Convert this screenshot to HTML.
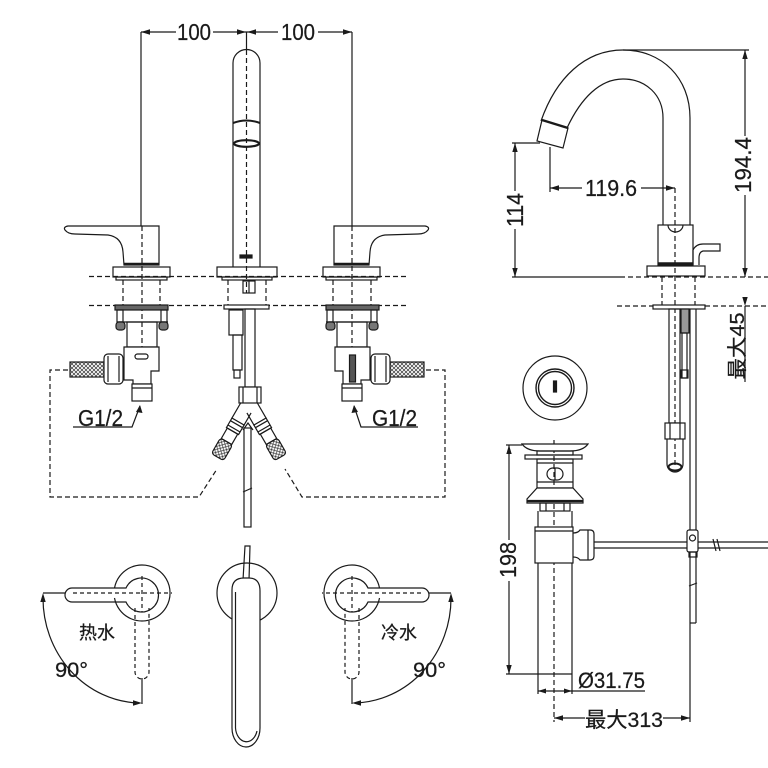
<!DOCTYPE html>
<html><head><meta charset="utf-8"><style>
html,body{margin:0;padding:0;background:#fff;}
svg{display:block;}
text{font-family:"Liberation Sans","Noto Sans CJK SC",sans-serif;fill:#1a1a1a;stroke:#1a1a1a;stroke-width:0.25;}
</style></head><body>
<svg width="768" height="768" viewBox="0 0 768 768" xmlns="http://www.w3.org/2000/svg">
<defs>
<pattern id="h" patternUnits="userSpaceOnUse" width="4" height="4"><path d="M0,0L4,4M4,0L0,4" stroke="#333" stroke-width="0.7"/></pattern>
<g id="handle">
  <path d="M159,265 L159,226 L68,226 Q63,227 65,230 Q68,234 75,234 L108,235 Q122,237 123,252 L124,265 Z"/>
  <line x1="124" y1="264" x2="159" y2="264" stroke-width="2.6"/>
  <rect x="113" y="267" width="57" height="10"/>
  <rect x="116" y="277" width="51" height="3"/>
</g>
<g id="valve">
  <rect x="115" y="305" width="53" height="5" fill="#666"/>
  <rect x="117" y="310" width="6" height="12"/>
  <rect x="161" y="310" width="6" height="12"/>
  <line x1="117" y1="322" x2="168" y2="322"/>
  <rect x="116" y="322" width="9" height="8" rx="3" fill="#777"/>
  <rect x="159" y="322" width="9" height="8" rx="3" fill="#777"/>
  <rect x="127" y="322" width="30" height="25"/>
  <path d="M124,347 L159,347 L159,371 L151,371 L151,384 L133,384 L133,380 L124,380 Z" fill="#fff"/>
  <rect x="132" y="384" width="20" height="17" fill="#fff"/>
  <line x1="132" y1="388" x2="152" y2="388"/>
  <rect x="70" y="362" width="34" height="15" fill="url(#h)"/>
  <rect x="104" y="354" width="19" height="30" rx="4" fill="#fff"/>
  <line x1="108" y1="356" x2="108" y2="382"/>
  <line x1="119" y1="356" x2="119" y2="382"/>
</g>
<g id="topview">
  <path d="M114.5,588 A28,28 0 1 1 114.5,598"/>
  <path d="M72,588 L126,588 A17,17 0 1 1 126,602 L72,602 A7,7 0 0 1 72,588 Z"/>
  <path d="M135,608 L135,672 A7,7 0 0 0 149,672 L149,608" stroke-dasharray="4 3"/>
  <line x1="73" y1="593" x2="172" y2="593" stroke-dasharray="4 3"/>
  <line x1="142" y1="576" x2="142" y2="612" stroke-dasharray="4 3"/>
  <line x1="43" y1="593" x2="65" y2="593"/>
  <line x1="142" y1="678" x2="142" y2="704"/>
  <path d="M43,598 A99,105 0 0 0 138,703"/>
  <polygon points="43,593 40.3,602 45.7,602" fill="#1a1a1a" stroke="none"/>
  <polygon points="142,703 133,700.3 133,705.7" fill="#1a1a1a" stroke="none"/>
</g>
</defs>
<rect width="768" height="768" fill="#fff"/>

<g fill="none" stroke="#1a1a1a" stroke-width="1.2">
<!-- top dimensions -->
<line x1="141" y1="32" x2="176" y2="32"/>
<line x1="213" y1="32" x2="278" y2="32"/>
<line x1="318" y1="32" x2="352" y2="32"/>
<line x1="141" y1="32" x2="141" y2="226"/>
<line x1="352" y1="32" x2="352" y2="226"/>
<line x1="246.5" y1="32" x2="246.5" y2="50"/>

<!-- center spout -->
<path d="M233,267 L233,63 A13.5,13.5 0 0 1 260,63 L260,267" fill="#fff"/>
<path d="M233,123 Q246.5,118 260,123" stroke-width="2"/>
<ellipse cx="246.5" cy="143.5" rx="12.5" ry="3.3" stroke-width="2.2"/>
<rect x="240" y="255" width="12" height="3" fill="#1a1a1a"/>
<rect x="217" y="267" width="60" height="10" fill="#fff"/>
<rect x="222" y="277" width="50" height="3"/>
<rect x="243" y="281" width="12" height="12"/>
<line x1="249" y1="281" x2="249" y2="293"/>

<!-- handles -->
<use href="#handle"/>
<use href="#handle" transform="translate(493,0) scale(-1,1)"/>

<!-- dashed -->
<g stroke-dasharray="5 3">
<line x1="89" y1="276.5" x2="408" y2="276.5"/>
<line x1="89" y1="305.5" x2="408" y2="305.5"/>
<line x1="142" y1="226" x2="142" y2="395"/>
<line x1="352" y1="226" x2="352" y2="395"/>
<line x1="246.5" y1="50" x2="246.5" y2="293"/>
<line x1="123" y1="280" x2="123" y2="305"/>
<line x1="160" y1="280" x2="160" y2="305"/>
<line x1="333" y1="280" x2="333" y2="305"/>
<line x1="371" y1="280" x2="371" y2="305"/>
<line x1="228" y1="280" x2="228" y2="305"/>
<line x1="266" y1="280" x2="266" y2="305"/>
<polyline points="68,370 50,370 50,497 199,497 217,469"/>
<polyline points="426,370 445,370 445,497 302,497 285,469"/>
</g>

<!-- valves -->
<use href="#valve"/>
<use href="#valve" transform="translate(494,0) scale(-1,1)"/>
<rect x="135" y="354" width="13" height="5" rx="2.5"/>
<rect x="349.5" y="355" width="6" height="27" fill="#555"/>

<!-- G1/2 leaders -->
<polyline points="73,427 132,427 140,406"/>
<polyline points="418,427 361,427 354,406"/>

<!-- center assembly -->
<rect x="224" y="305" width="45" height="4" fill="#fff"/>
<rect x="245" y="309" width="10" height="78"/>
<rect x="229" y="310" width="14" height="25"/>
<rect x="233" y="335" width="9" height="35"/>
<rect x="234" y="370" width="6" height="8"/>
<rect x="239" y="387" width="22" height="16" fill="#fff"/>
<line x1="243" y1="387" x2="243" y2="403"/>
<line x1="257" y1="387" x2="257" y2="403"/>
<g transform="translate(247,406) rotate(30)">
  <path d="M-7,0 L-7,18 L7,18 L7,4"/>
  <rect x="-7" y="18" width="14" height="11" fill="#fff"/>
  <line x1="-7" y1="21" x2="7" y2="21"/>
  <line x1="-7" y1="26" x2="7" y2="26"/>
  <rect x="-6" y="29" width="12" height="12"/>
  <rect x="-7" y="41" width="14" height="18" rx="3" fill="url(#h)"/>
</g>
<g transform="translate(251,406) rotate(-30)">
  <path d="M7,0 L7,18 L-7,18 L-7,4"/>
  <rect x="-7" y="18" width="14" height="11" fill="#fff"/>
  <line x1="-7" y1="21" x2="7" y2="21"/>
  <line x1="-7" y1="26" x2="7" y2="26"/>
  <rect x="-6" y="29" width="12" height="12"/>
  <rect x="-7" y="41" width="14" height="18" rx="3" fill="url(#h)"/>
</g>
<path d="M243,430 L248,423 L253,430"/>
<rect x="244" y="428" width="7" height="99" fill="#fff"/>
<path d="M243,492 L252,488" />

<!-- bottom top views -->
<use href="#topview"/>
<use href="#topview" transform="translate(494,0) scale(-1,1)"/>
<circle cx="247" cy="593" r="30"/>
<path d="M245,546 L250,546 L249,580 L243,580 Z"/>
<path d="M232,590 Q232,578 244,578 L249,578 Q260,578 260,591 L260,728 A14,19 0 0 1 232,728 Z" fill="#fff"/>
<path d="M235.5,592 L235.5,728 A11,15 0 0 0 257,731"/>

<!-- right side view: gooseneck -->
<path d="M690,225 L690,118 C690,78 662,50 623,50 C585,50 556,78 541,121"/>
<path d="M663,225 L663,118 C663,95 646,79 623,79 C600,79 581,98 567,128"/>
<polygon points="542,120 568,128 563,148 537,141" fill="#fff"/>
<line x1="542" y1="120" x2="568" y2="128" stroke-width="2.4"/>
<line x1="623" y1="50" x2="749" y2="50"/>
<line x1="745" y1="50" x2="745" y2="136"/>
<line x1="745" y1="195" x2="745" y2="277"/>
<line x1="512" y1="143" x2="540" y2="143"/>
<line x1="515" y1="143" x2="515" y2="191"/>
<line x1="515" y1="229" x2="515" y2="277"/>
<line x1="550" y1="147" x2="550" y2="192"/>
<line x1="550" y1="188" x2="582" y2="188"/>
<line x1="641" y1="188" x2="675" y2="188"/>
<rect x="658" y="225" width="35" height="40" fill="#fff"/>
<path d="M668,225 A7.5,7 0 0 0 683,225"/>
<line x1="658" y1="263.5" x2="693" y2="263.5" stroke-width="2.5"/>
<path d="M693,265 L693,250 Q696,244 703,244 L720,244 L720,251 L703,251 Q699,252 699,258 L699,265"/>
<rect x="647" y="266" width="58" height="10" fill="#fff"/>
<line x1="512" y1="277" x2="620" y2="277"/>
<g stroke-dasharray="5 3">
<line x1="620" y1="277" x2="768" y2="277"/>
<line x1="617" y1="306" x2="768" y2="306"/>
<line x1="662" y1="277" x2="662" y2="306"/>
<line x1="695" y1="277" x2="695" y2="306"/>
<line x1="675" y1="188" x2="675" y2="467"/>
<line x1="554" y1="440" x2="554" y2="722"/>
</g>
<line x1="745" y1="306" x2="745" y2="382"/>
<rect x="653" y="305" width="52" height="4" fill="#fff"/>
<rect x="669" y="309" width="11" height="114"/>
<rect x="681" y="309" width="8" height="24" fill="#999"/>
<rect x="682" y="333" width="5" height="45"/>
<rect x="681" y="370" width="7" height="8"/>
<rect x="665" y="423" width="20" height="16" fill="#fff"/>
<line x1="670" y1="423" x2="670" y2="439"/>
<line x1="680" y1="423" x2="680" y2="439"/>
<path d="M667,439 L667,464 A8,8 0 0 0 683,464 L683,439"/>
<ellipse cx="675" cy="467" rx="6.5" ry="3.5" stroke-width="2"/>
<line x1="690" y1="309" x2="690" y2="623"/>
<line x1="696" y1="309" x2="696" y2="623"/>
<line x1="690" y1="623" x2="696" y2="623"/>
<path d="M689,586 L697,583"/>

<!-- escutcheon -->
<circle cx="555" cy="388" r="32"/>
<circle cx="555" cy="388" r="19" stroke-width="1.4"/>
<circle cx="555" cy="388" r="16.5" stroke-width="1.4"/>
<rect x="553.5" y="381" width="3" height="11" fill="#1a1a1a"/>

<!-- drain -->
<path d="M522,444 L588,444 Q583,451 570,451 L540,451 Q527,451 522,444 Z" fill="#fff"/>
<rect x="537" y="451" width="36" height="4"/>
<rect x="525" y="455" width="57" height="4"/>
<rect x="537" y="459" width="36" height="29"/>
<line x1="537" y1="463" x2="573" y2="463"/>
<line x1="537" y1="482" x2="573" y2="482"/>
<rect x="547" y="468" width="16" height="12" rx="6"/>
<line x1="555" y1="468" x2="555" y2="480"/>
<path d="M537,488 L573,488 L583,499 L583,503 L527,503 L527,499 Z" fill="#fff"/>
<line x1="527" y1="501" x2="583" y2="501" stroke-width="2.2"/>
<rect x="540" y="503" width="30" height="8"/>
<line x1="546" y1="503" x2="546" y2="511"/>
<line x1="564" y1="503" x2="564" y2="511"/>
<line x1="538" y1="511" x2="538" y2="527"/>
<line x1="572" y1="511" x2="572" y2="527"/>
<rect x="535" y="527" width="38" height="36" fill="#fff"/>
<line x1="535" y1="531" x2="573" y2="531"/>
<path d="M573,533 Q578,533 580,530 L590,530 Q594,530 594,534 L594,556 Q594,560 590,560 L580,560 Q578,557 573,557"/>
<line x1="588" y1="530" x2="588" y2="560"/>
<line x1="594" y1="542" x2="768" y2="542"/>
<line x1="594" y1="548" x2="768" y2="548"/>
<rect x="687" y="530" width="11" height="22" rx="2" fill="#fff"/>
<circle cx="692.5" cy="538" r="3"/>
<rect x="689" y="552" width="8" height="5"/>
<path d="M713,539 L716,551 M717,539 L720,551"/>
<line x1="538" y1="563" x2="538" y2="694"/>
<line x1="572" y1="563" x2="572" y2="694"/>
<line x1="538" y1="674" x2="572" y2="674"/>

<!-- 198 -->
<line x1="506" y1="445" x2="522" y2="445"/>
<line x1="509" y1="445" x2="509" y2="540"/>
<line x1="509" y1="581" x2="509" y2="674"/>
<line x1="506" y1="674" x2="538" y2="674"/>
<!-- Ø31.75 -->
<line x1="538" y1="691" x2="645" y2="691"/>
<!-- 313 -->
<line x1="690" y1="623" x2="690" y2="722"/>
<line x1="554" y1="718" x2="585" y2="718"/>
<line x1="663" y1="718" x2="690" y2="718"/>
</g>

<!-- arrowheads -->
<g fill="#1a1a1a">
<polygon points="141,32 150,29.3 150,34.7"/>
<polygon points="246,32 237,29.3 237,34.7"/>
<polygon points="247,32 256,29.3 256,34.7"/>
<polygon points="352,32 343,29.3 343,34.7"/>
<polygon points="140,405 136,412 142.5,413"/>
<polygon points="354,405 351.5,413 358,412"/>
<polygon points="745,50 742.3,59 747.7,59"/>
<polygon points="745,277 742.3,268 747.7,268"/>
<polygon points="745,306 742.3,297 747.7,297"/>
<polygon points="515,143 512.3,152 517.7,152"/>
<polygon points="515,277 512.3,268 517.7,268"/>
<polygon points="550,188 559,185.3 559,190.7"/>
<polygon points="675,188 666,185.3 666,190.7"/>
<polygon points="509,445 506.3,454 511.7,454"/>
<polygon points="509,674 506.3,665 511.7,665"/>
<polygon points="538,691 546,688.5 546,693.5"/>
<polygon points="572,691 564,688.5 564,693.5"/>
<polygon points="554,718 563,715.3 563,720.7"/>
<polygon points="690,718 681,715.3 681,720.7"/>
</g>

<!-- text -->
<text x="194" y="40" font-size="23" text-anchor="middle" textLength="34" lengthAdjust="spacingAndGlyphs">100</text>
<text x="298" y="40" font-size="23" text-anchor="middle" textLength="34" lengthAdjust="spacingAndGlyphs">100</text>
<text x="78" y="426" font-size="23" textLength="45" lengthAdjust="spacingAndGlyphs">G1/2</text>
<text x="372" y="426" font-size="23" textLength="45" lengthAdjust="spacingAndGlyphs">G1/2</text>
<text x="79" y="639" font-size="18">热水</text>
<text x="381" y="639" font-size="18">冷水</text>
<text x="55" y="677" font-size="21" textLength="33" lengthAdjust="spacingAndGlyphs">90°</text>
<text x="413" y="677" font-size="21" textLength="33" lengthAdjust="spacingAndGlyphs">90°</text>
<text x="611" y="196" font-size="23" text-anchor="middle" textLength="52" lengthAdjust="spacingAndGlyphs">119.6</text>
<text transform="translate(523,210) rotate(-90)" font-size="23" text-anchor="middle" textLength="34" lengthAdjust="spacingAndGlyphs">114</text>
<text transform="translate(751,165) rotate(-90)" font-size="23" text-anchor="middle" textLength="56" lengthAdjust="spacingAndGlyphs">194.4</text>
<text transform="translate(744,346) rotate(-90)" font-size="20" text-anchor="middle" textLength="67" lengthAdjust="spacingAndGlyphs">最大45</text>
<text transform="translate(516,560) rotate(-90)" font-size="23" text-anchor="middle" textLength="36" lengthAdjust="spacingAndGlyphs">198</text>
<text x="578" y="688" font-size="22" textLength="67" lengthAdjust="spacingAndGlyphs">Ø31.75</text>
<text x="585" y="727" font-size="21" textLength="78" lengthAdjust="spacingAndGlyphs">最大313</text>
</svg>
</body></html>
